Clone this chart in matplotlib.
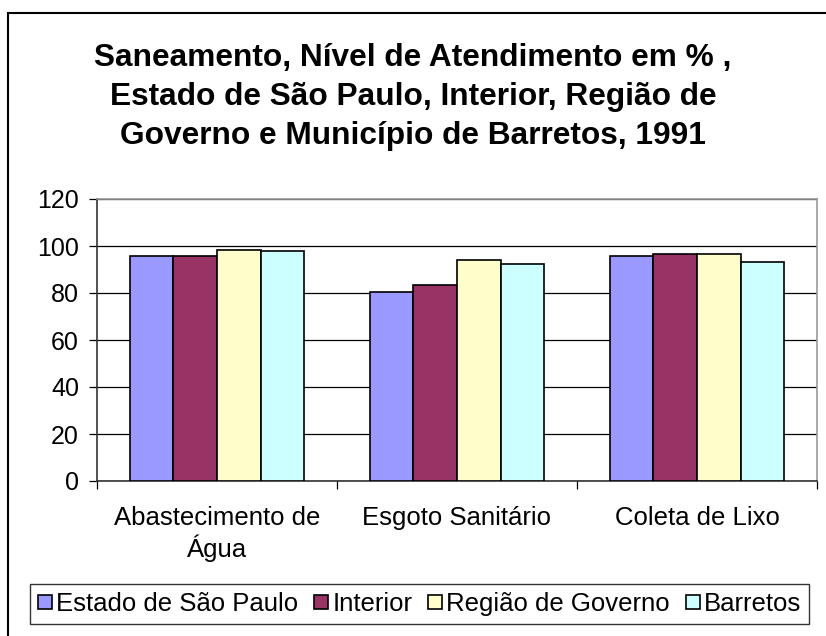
import numpy as np
import matplotlib
matplotlib.use("Agg")
from matplotlib import pyplot as plt
from matplotlib.patches import Rectangle

plt.rcParams['font.family'] = ['Liberation Sans', 'DejaVu Sans']

categories = ["Abastecimento de\nÁgua", "Esgoto Sanitário", "Coleta de Lixo"]
series_names = ["Estado de São Paulo", "Interior", "Região de Governo", "Barretos"]
sao_paulo = [95.7, 80.4, 95.9]
interior = [95.7, 83.4, 96.7]
regiao = [98.4, 94.0, 96.7]
barretos = [97.7, 92.3, 93.2]
colors = ["#9999FF", "#993366", "#FFFFCC", "#CCFFFF"]
yticks = [0, 20, 40, 60, 80, 100, 120]

fig = plt.figure(figsize=(8.26, 6.36), dpi=100)
ax = fig.add_axes([97 / 826, 1 - 481 / 636, 720 / 826, 282 / 636])

# outer chart border (right/bottom sides fall outside the image)
fig.patches.append(Rectangle((8 / 826, -0.1), 1.2, 1 - 13 / 636 + 0.1,
                             transform=fig.transFigure, fill=False,
                             edgecolor="black", linewidth=1.5))

x = np.arange(len(categories))
width = 1 / 5.5
values = [sao_paulo, interior, regiao, barretos]
for i, vals in enumerate(values):
    ax.bar(x + (i - 1.5) * width, vals, width, color=colors[i],
           edgecolor="black", linewidth=1.2, label=series_names[i], zorder=3)

ax.set_xlim(-0.5, 2.5)
ax.set_ylim(0, 120)
ax.set_yticks(yticks)
ax.yaxis.grid(True, color="black", linewidth=0.9, zorder=0)
ax.set_axisbelow(True)
ax.tick_params(axis="y", direction="out", length=6, width=0.9, labelsize=18, pad=7)

ax.set_xticks(x)
ax.set_xticklabels(categories, fontsize=18.5, linespacing=1.22)
ax.set_xticks([-0.5, 0.5, 1.5, 2.5], minor=True)
ax.tick_params(axis="x", which="major", length=0, pad=18)
ax.tick_params(axis="x", which="minor", direction="out", length=6, width=0.9)

ax.spines["left"].set_color("#333333")
ax.spines["bottom"].set_color("#333333")
ax.spines["top"].set_color("#999999")
ax.spines["right"].set_color("#999999")
for s in ax.spines.values():
    s.set_linewidth(1.2)

fig.text(0.5, 1 - 97 / 636,
         "Saneamento, Nível de Atendimento em % ,\nEstado de São Paulo, Interior, Região de\nGoverno e Município de Barretos, 1991",
         ha="center", va="center", fontsize=22.8, fontweight="bold", linespacing=1.4)

leg = fig.legend(loc="center", bbox_to_anchor=(419.5 / 826, 1 - 604 / 636), ncol=4,
                 fontsize=18.5, frameon=True, fancybox=False, edgecolor="black",
                 handlelength=0.55, handleheight=0.47, handletextpad=0.15,
                 columnspacing=0.62, borderpad=0.3, borderaxespad=0)
leg.get_frame().set_linewidth(1.0)

plt.savefig("out.png", dpi=100)
